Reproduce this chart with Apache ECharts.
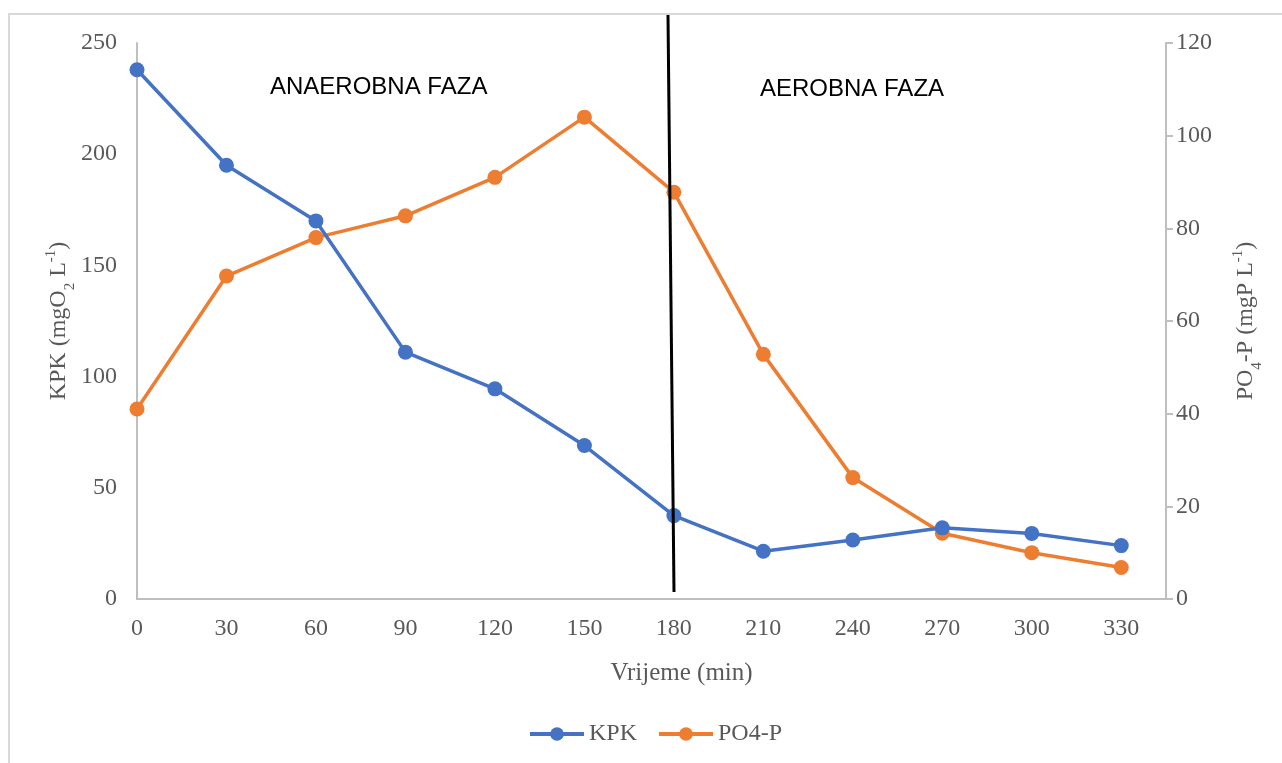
<!DOCTYPE html>
<html>
<head>
<meta charset="utf-8">
<script src="https://cdn.jsdelivr.net/npm/echarts@6/dist/echarts.min.js"></script>
<style>
  html, body { margin: 0; padding: 0; background: #fff; }
  #chart { width: 1282px; height: 763px; }
</style>
</head>
<body>
<div id="chart"></div>
<script>
// vrijeme (min)
const times = [0, 30, 60, 90, 120, 150, 180, 210, 240, 270, 300, 330]
// KPK (mgO2 L-1)
const kpk = [238, 195, 170, 111, 94.5, 69, 37.5, 21.5, 26.5, 32, 29.5, 24]
// PO4-P (mgP L-1)
const po4 = [41, 69.7, 78, 82.7, 91, 104, 87.8, 52.8, 26.2, 14.2, 10, 6.8]

const serif = 'Liberation Serif'
const grey = '#595959'
const axisGrey = '#bfbfbf'

const chart = echarts.init(document.getElementById('chart'))

const richName = {
  n: { fontSize: 24, fontFamily: serif, color: grey, lineHeight: 30 },
  sub: { fontSize: 15, fontFamily: serif, color: grey, verticalAlign: 'bottom', lineHeight: 30, padding: [0, 0, -4, 0] },
  sup: { fontSize: 15, fontFamily: serif, color: grey, verticalAlign: 'top', lineHeight: 30 },
}

const option = {
  animation: false,
  grid: { left: 137, right: 116, top: 43, bottom: 164, outerBoundsMode: 'none', containLabel: false },
  legend: {
    data: ['KPK', 'PO4-P'],
    top: 717,
    left: 523,
    itemWidth: 54,
    itemHeight: 17,
    itemGap: 20,
    lineStyle: { width: 4 },
    textStyle: { fontFamily: serif, fontSize: 24, color: grey },
  },
  xAxis: {
    type: 'value',
    min: 0,
    max: 345,
    interval: 30,
    name: 'Vrijeme (min)',
    nameLocation: 'middle',
    nameGap: 62,
    nameMoveOverlap: false,
    nameTextStyle: { fontFamily: serif, fontSize: 25, color: grey, padding: [0, 0, 0, 60] },
    axisLine: { lineStyle: { color: axisGrey, width: 2 } },
    axisTick: { show: false },
    splitLine: { show: false },
    axisLabel: { fontFamily: serif, fontSize: 24, color: grey, margin: 18, showMaxLabel: false },
  },
  yAxis: [
    {
      type: 'value',
      min: 0,
      max: 250,
      interval: 50,
      name: '{n|KPK (mgO}{sub|2}{n| L}{sup|-1}{n|)}',
      nameLocation: 'middle',
      nameGap: 63,
      nameMoveOverlap: false,
      nameTextStyle: { rich: richName },
      axisLine: { show: true, lineStyle: { color: axisGrey, width: 2 } },
      axisTick: { show: false },
      splitLine: { show: false },
      axisLabel: { fontFamily: serif, fontSize: 24, color: grey, margin: 20 },
    },
    {
      type: 'value',
      min: 0,
      max: 120,
      interval: 20,
      position: 'right',
      name: '{n|PO}{sub|4}{n|-P (mgP L}{sup|-1}{n|)}',
      nameLocation: 'middle',
      nameGap: 65,
      nameRotate: 90,
      nameMoveOverlap: false,
      nameTextStyle: { rich: richName },
      axisLine: { show: true, lineStyle: { color: axisGrey, width: 2 } },
      axisTick: { show: true, length: 7, lineStyle: { color: axisGrey, width: 2 } },
      splitLine: { show: false },
      axisLabel: { fontFamily: serif, fontSize: 24, color: grey, margin: 10 },
    },
  ],
  series: [
    {
      name: 'KPK',
      type: 'line',
      yAxisIndex: 0,
      data: times.map((t, i) => [t, kpk[i]]),
      symbol: 'circle',
      symbolSize: 15,
      lineStyle: { color: '#4472C4', width: 3.5 },
      itemStyle: { color: '#4472C4' },
      z: 3,
    },
    {
      name: 'PO4-P',
      type: 'line',
      yAxisIndex: 1,
      data: times.map((t, i) => [t, po4[i]]),
      symbol: 'circle',
      symbolSize: 15,
      lineStyle: { color: '#ED7D31', width: 3.5 },
      itemStyle: { color: '#ED7D31' },
      z: 2,
    },
  ],
  graphic: [
    // okvir grafikona
    {
      type: 'rect',
      shape: { x: 9, y: 14, width: 1290, height: 760 },
      style: { fill: 'none', stroke: '#d9d9d9', lineWidth: 2 },
      silent: true,
    },
    // granica faza
    {
      type: 'line',
      shape: { x1: 668, y1: 15, x2: 674, y2: 592 },
      style: { stroke: '#000', lineWidth: 3 },
      z: 10,
    },
    {
      type: 'text',
      left: 270,
      top: 75,
      style: { text: 'ANAEROBNA FAZA', fontFamily: 'Liberation Sans', fontSize: 24, fill: '#000' },
    },
    {
      type: 'text',
      left: 760,
      top: 77,
      style: { text: 'AEROBNA FAZA', fontFamily: 'Liberation Sans', fontSize: 24, fill: '#000' },
    },
  ],
}

chart.setOption(option)
window.addEventListener('resize', () => {
  chart.resize()
})
</script>
</body>
</html>
